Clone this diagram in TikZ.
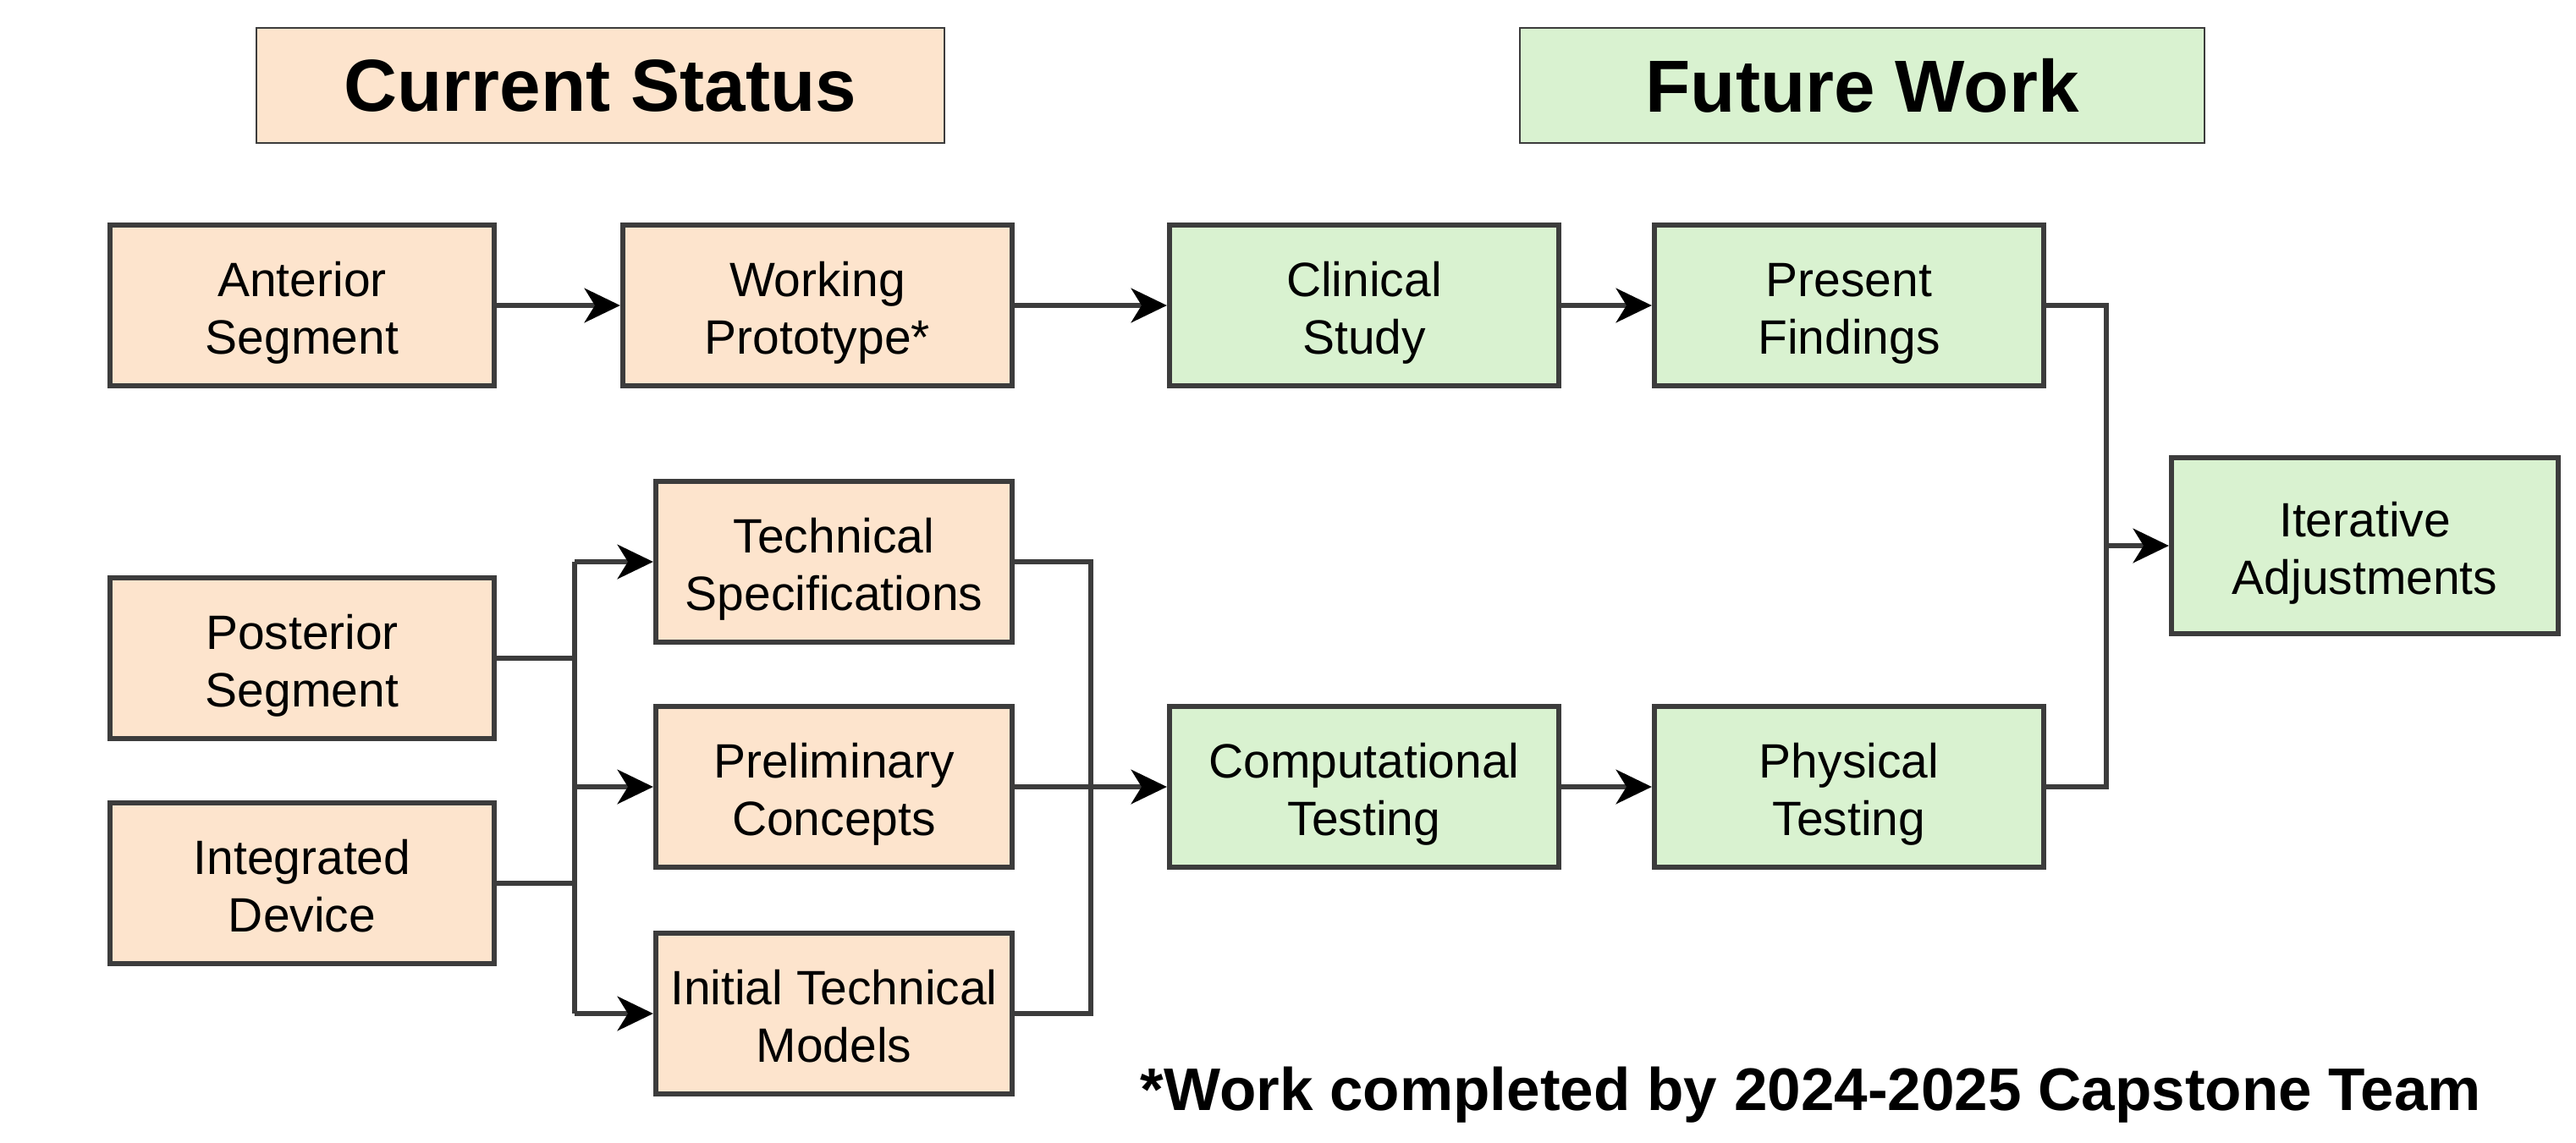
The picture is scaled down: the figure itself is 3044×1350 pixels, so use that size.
\documentclass[tikz,border=0pt]{standalone}
\usepackage{fontspec}
\setmainfont{Liberation Sans}
\usetikzlibrary{arrows.meta}
\definecolor{peach}{HTML}{FDE4CD}
\definecolor{mint}{HTML}{D9F2D0}
\definecolor{edgegray}{HTML}{3C3C3C}
\newcommand{\ltopstrut}{\rule{0pt}{17pt}}
\begin{document}
\begin{tikzpicture}[x=0.01cm,y=-0.01cm,
  base/.style={draw=edgegray, line width=1.7pt, inner sep=0pt, align=center,
    font=\fontsize{16.2}{19.4}\selectfont, minimum height=1.90cm,
    execute at end node={\rule[-3.5pt]{0pt}{3.5pt}}},
  cur/.style={base, fill=peach},
  fut/.style={base, fill=mint},
  title/.style={draw=edgegray, line width=0.6pt, minimum height=1.36cm, inner sep=0pt,
    font=\fontsize{24.8}{28}\selectfont\bfseries},
  conn/.style={draw=edgegray, line width=1.7pt},
  arr/.style={conn, -{Stealth[length=12pt,width=11.5pt,inset=3.5pt,color=black]}}
]
\useasboundingbox[fill=white] (0,0) rectangle (3044,1350);

\node[title, fill=peach, minimum width=8.13cm] (tcur) at (709.5,101) {Current Status};
\node[title, fill=mint, minimum width=8.09cm] (tfut) at (2200.5,101) {Future Work};

\node[cur, minimum width=4.54cm] (ant) at (357,361) {\ltopstrut Anterior\\Segment};
\node[cur, minimum width=4.60cm] (work) at (966,361) {\ltopstrut Working\\Prototype*};
\node[fut, minimum width=4.60cm] (clin) at (1612,361) {\ltopstrut Clinical\\Study};
\node[fut, minimum width=4.60cm] (pres) at (2185,361) {\ltopstrut Present\\Findings};

\node[cur, minimum width=4.21cm] (tech) at (985.5,664) {\ltopstrut Technical\\Specifications};
\node[cur, minimum width=4.21cm] (prel) at (985.5,930) {\ltopstrut Preliminary\\Concepts};
\node[cur, minimum width=4.21cm] (init) at (985.5,1198) {\ltopstrut Initial Technical\\Models};

\node[cur, minimum width=4.54cm] (post) at (357,778) {\ltopstrut Posterior\\Segment};
\node[cur, minimum width=4.54cm] (intd) at (357,1044) {\ltopstrut Integrated\\Device};

\node[fut, minimum width=4.60cm] (comp) at (1612,930) {\ltopstrut Computational\\Testing};
\node[fut, minimum width=4.60cm] (phys) at (2185,930) {\ltopstrut Physical\\Testing};

\node[fut, minimum width=4.57cm, minimum height=2.07cm] (iter) at (2794.5,645) {\ltopstrut Iterative\\Adjustments};

\node[font=\fontsize{20.2}{24}\selectfont\bfseries, anchor=base, inner sep=0pt] (note) at (2140,1312) {*Work completed by 2024-2025 Capstone Team};

\coordinate (jL) at (679,0);
\coordinate (jM) at (1289,0);
\coordinate (jR) at (2489,0);

\draw[arr] (ant) -- (work);
\draw[arr] (work) -- (clin);
\draw[arr] (clin) -- (pres);

\draw[conn] (post.east) -- (post.east -| jL);
\draw[conn] (intd.east) -- (intd.east -| jL);
\draw[conn] (tech.west -| jL) -- (init.west -| jL);
\draw[arr] (tech.west -| jL) -- (tech.west);
\draw[arr] (prel.west -| jL) -- (prel.west);
\draw[arr] (init.west -| jL) -- (init.west);

\draw[conn] (tech.east) -| (jM |- init.east) -- (init.east);
\draw[arr] (prel) -- (comp);
\draw[arr] (comp) -- (phys);

\draw[conn] (pres.east) -| (jR |- phys.east) -- (phys.east);
\draw[arr] (jR |- iter.west) -- (iter.west);
\end{tikzpicture}
\end{document}
